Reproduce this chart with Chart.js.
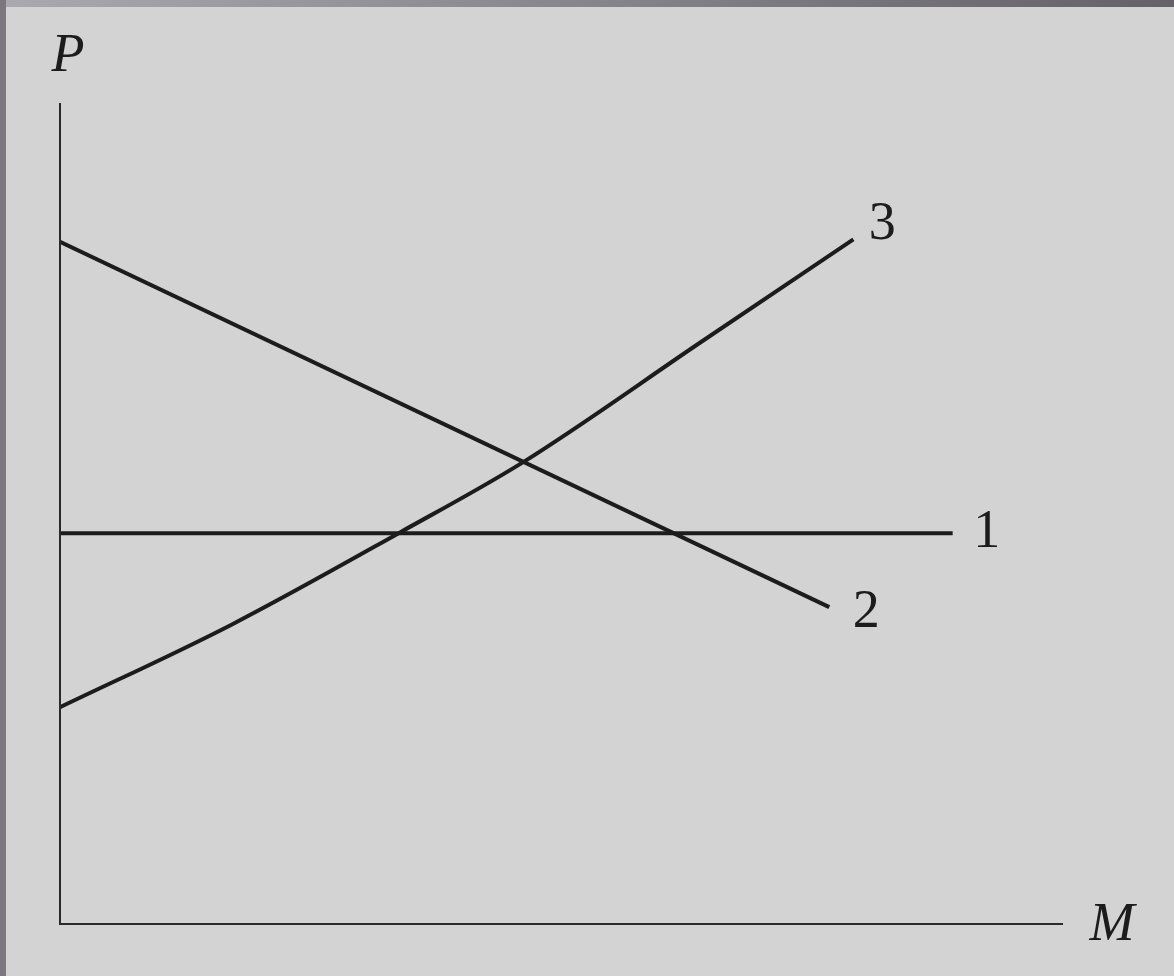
<!DOCTYPE html>
<html>
<head>
<meta charset="utf-8">
<script src="https://cdn.jsdelivr.net/npm/chart.js@4"></script>
<style>
    html, body { margin: 0; padding: 0; }
    body { width: 1174px; height: 976px; background: #d3d3d3; position: relative; overflow: hidden; }
    #topBar { position: absolute; left: 0; top: 0; width: 1174px; height: 7px; background: linear-gradient(to right, #aaa9af, #646169); z-index: 2; }
    #leftBar { position: absolute; left: 0; top: 0; width: 6px; height: 976px; background: #7a787e; z-index: 2; }
    #wrap { position: absolute; left: 0; top: 0; width: 1174px; height: 976px; }
</style>
</head>
<body>
<div id="topBar"></div>
<div id="leftBar"></div>
<div id="wrap"><canvas id="chart"></canvas></div>
<script>
// curve values in axis units (M from 0..100, P from 0..100)
const line1 = [{x: 0, y: 47.6}, {x: 89.0, y: 47.6}];
const line2 = [{x: 0, y: 83.1}, {x: 76.7, y: 38.6}];
const line3M = [0, 17.0, 33.9, 46.1, 63.8, 79.1];
const line3P = [26.4, 36.4, 47.7, 56.2, 70.8, 83.4];
const curveLabels = ['1', '2', '3'];
const axisLabels = ['P', 'M'];

const line3 = line3M.map((m, i) => ({x: m, y: line3P[i]}));
const ink = '#1c1c1c';

const labelPlugin = {
    id: 'axesAndLabels',
    afterDraw(chart) {
        const ctx = chart.ctx;
        const area = chart.chartArea;
        const xs = chart.scales.x;
        const ys = chart.scales.y;

        // axes
        ctx.save();
        ctx.strokeStyle = '#2a2a2a';
        ctx.lineWidth = 2;
        ctx.beginPath();
        ctx.moveTo(area.left, area.top);
        ctx.lineTo(area.left, area.bottom);
        ctx.lineTo(area.right, area.bottom);
        ctx.stroke();

        ctx.fillStyle = ink;
        ctx.textAlign = 'center';
        ctx.textBaseline = 'middle';
        ctx.font = 'italic 54px "Liberation Serif", "DejaVu Serif", serif';
        ctx.fillText(axisLabels[0], area.left + 8, area.top - 46);
        ctx.fillText(axisLabels[1], area.right + 49, area.bottom + 2);

        // curve numbers next to the curve ends
        ctx.font = '54px "Liberation Serif", "DejaVu Serif", serif';
        const ends = [line1[line1.length - 1], line2[line2.length - 1], line3[line3.length - 1]];
        const offsets = [[34, 0], [37, 6], [29, -14]];
        ends.forEach((pt, i) => {
            const px = xs.getPixelForValue(pt.x) + offsets[i][0];
            const py = ys.getPixelForValue(pt.y) + offsets[i][1];
            ctx.fillText(curveLabels[i], px, py);
        });
        ctx.restore();
    }
};

const ctx = document.getElementById('chart').getContext('2d');
new Chart(ctx, {
    type: 'scatter',
    data: {
        datasets: [
            { label: curveLabels[0], data: line1, showLine: true, borderColor: ink, borderWidth: 4, pointRadius: 0, tension: 0 },
            { label: curveLabels[1], data: line2, showLine: true, borderColor: ink, borderWidth: 4, pointRadius: 0, tension: 0 },
            { label: curveLabels[2], data: line3, showLine: true, borderColor: ink, borderWidth: 4, pointRadius: 0, cubicInterpolationMode: 'monotone' }
        ]
    },
    options: {
        responsive: true,
        maintainAspectRatio: false,
        animation: false,
        layout: { padding: { left: 60, right: 111, top: 103, bottom: 52 } },
        plugins: { legend: { display: false }, tooltip: { enabled: false } },
        scales: {
            x: { type: 'linear', min: 0, max: 100, display: false },
            y: { type: 'linear', min: 0, max: 100, display: false }
        }
    },
    plugins: [labelPlugin]
});
</script>
</body>
</html>
